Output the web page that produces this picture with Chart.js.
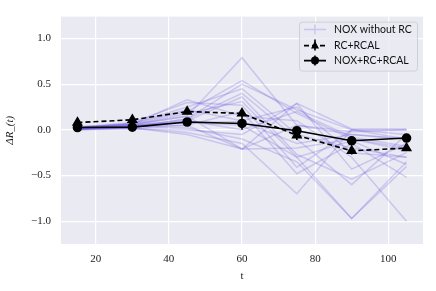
<!DOCTYPE html>
<html>
<head>
<meta charset="UTF-8">
<title>ΔR_(t)</title>
<script src="https://cdn.jsdelivr.net/npm/chart.js"></script>
<style>
  html, body { margin: 0; padding: 0; background: #fff; }
  #wrap { width: 436px; height: 291px; }
</style>
</head>
<body>
<div id="wrap"><canvas id="chart" width="436" height="291"></canvas></div>
<script>
// time points
const tValues = [15, 30, 45, 60, 75, 90, 105];
const xTicks = [20, 40, 60, 80, 100];
const yTicks = [-1.0, -0.5, 0.0, 0.5, 1.0];

// individual runs, NOX without RC
const noxRuns = [
  [0.02, 0.05, 0.15, 0.79, 0.05, -0.05, -0.10],
  [0.03, 0.06, 0.20, 0.54, 0.18, -0.10, -0.20],
  [0.01, 0.04, 0.12, 0.50, 0.22, 0.00, -0.05],
  [0.02, 0.07, 0.25, 0.45, -0.05, -0.20, -0.30],
  [0.00, 0.03, 0.10, 0.36, -0.27, -0.54, -0.25],
  [0.02, 0.05, 0.18, 0.31, -0.30, -0.97, -0.40],
  [0.03, 0.08, 0.30, 0.27, -0.41, 0.00, 0.00],
  [0.01, 0.02, 0.05, 0.20, -0.48, -0.15, -0.52],
  [0.02, 0.06, 0.33, 0.15, 0.10, -0.30, -1.00],
  [0.01, 0.03, 0.08, 0.09, -0.15, -0.05, -0.10],
  [0.00, 0.01, 0.00, -0.05, 0.29, -0.43, -0.15],
  [0.02, 0.04, 0.05, -0.21, 0.29, 0.01, 0.01],
  [0.01, 0.02, -0.03, -0.15, -0.70, 0.00, -0.10],
  [0.02, 0.04, 0.02, -0.10, -0.35, -0.97, -0.35],
  [0.03, 0.06, 0.15, -0.21, -0.20, -0.10, -0.23],
  [0.01, 0.05, 0.10, 0.00, 0.20, -0.08, -0.18],
  [0.02, 0.07, 0.22, 0.10, 0.25, -0.25, -0.30],
  [0.00, 0.02, -0.05, -0.21, 0.05, -0.02, 0.00],
  [0.02, 0.03, 0.12, 0.40, -0.10, -0.60, -0.05],
  [0.01, 0.05, 0.08, 0.05, -0.30, -0.12, -0.38]
];

const rcRcal = [0.08, 0.11, 0.20, 0.18, -0.06, -0.23, -0.20];
const rcRcalErr = [0.04, 0.03, 0.03, 0.04, 0.05, 0.04, 0.03];
const noxRcRcal = [0.025, 0.03, 0.086, 0.07, -0.01, -0.12, -0.09];
const noxRcRcalErr = [0.03, 0.02, 0.02, 0.07, 0.04, 0.03, 0.02];

const labels = ['NOX without RC', 'RC+RCAL', 'NOX+RC+RCAL'];
const purple = 'rgba(108, 88, 225, 0.25)';

const toPts = arr => arr.map((v, i) => ({ x: tValues[i], y: v }));

const datasets = [];
noxRuns.forEach((run, k) => {
  datasets.push({
    label: k === 0 ? labels[0] : '',
    data: toPts(run),
    borderColor: purple,
    borderWidth: 1.5,
    pointRadius: 0,
    fill: false,
    order: 2
  });
});
datasets.push({
  label: labels[1],
  data: toPts(rcRcal),
  err: rcRcalErr,
  borderColor: '#000',
  backgroundColor: '#000',
  borderWidth: 1.6,
  borderDash: [5, 3],
  pointStyle: 'triangle',
  pointRadius: 4.8,
  fill: false,
  order: 0
});
datasets.push({
  label: labels[2],
  data: toPts(noxRcRcal),
  err: noxRcRcalErr,
  borderColor: '#000',
  backgroundColor: '#000',
  borderWidth: 1.6,
  pointStyle: 'circle',
  pointRadius: 4,
  fill: false,
  order: 0
});

// grey seaborn panel
const panelBg = {
  id: 'panelBg',
  beforeDraw(chart) {
    const { ctx, chartArea: a } = chart;
    ctx.save();
    ctx.fillStyle = '#EAEAF2';
    ctx.fillRect(a.left, a.top, a.right - a.left, a.bottom - a.top);
    ctx.restore();
  }
};

// vertical error bars
const errorBars = {
  id: 'errorBars',
  afterDatasetsDraw(chart) {
    const { ctx, scales: { x, y } } = chart;
    ctx.save();
    ctx.strokeStyle = '#000';
    ctx.lineWidth = 1.6;
    chart.data.datasets.forEach(ds => {
      if (!ds.err) return;
      ds.data.forEach((p, i) => {
        const px = x.getPixelForValue(p.x);
        ctx.beginPath();
        ctx.moveTo(px, y.getPixelForValue(p.y - ds.err[i]));
        ctx.lineTo(px, y.getPixelForValue(p.y + ds.err[i]));
        ctx.stroke();
      });
    });
    ctx.restore();
  }
};

// matplotlib style legend
const mplLegend = {
  id: 'mplLegend',
  afterDraw(chart) {
    const { ctx, chartArea: a } = chart;
    const w = 118, h = 49;
    const bx = a.right - w - 6, by = a.top + 5;
    ctx.save();
    ctx.fillStyle = 'rgba(234,234,242,0.8)';
    ctx.strokeStyle = '#d0d0d8';
    ctx.lineWidth = 1;
    ctx.beginPath();
    ctx.roundRect(bx + 0.5, by + 0.5, w, h, 3);
    ctx.fill();
    ctx.stroke();

    const x0 = bx + 5, x1 = bx + 27, xm = (x0 + x1) / 2;
    const rows = [by + 8, by + 24, by + 39];
    ctx.font = '10.5px Lato, "DejaVu Sans", sans-serif';
    ctx.textBaseline = 'middle';
    ctx.fillStyle = '#111';
    labels.forEach((lab, i) => ctx.fillText(lab, bx + 35, rows[i]));

    // purple line with faint cap
    ctx.strokeStyle = purple;
    ctx.lineWidth = 1.5;
    ctx.beginPath();
    ctx.moveTo(x0, rows[0]); ctx.lineTo(x1, rows[0]);
    ctx.moveTo(xm, rows[0] - 5); ctx.lineTo(xm, rows[0] + 5);
    ctx.stroke();

    // dashed + triangle
    ctx.strokeStyle = '#000';
    ctx.lineWidth = 1.6;
    ctx.setLineDash([5, 3]);
    ctx.beginPath();
    ctx.moveTo(x0, rows[1]); ctx.lineTo(x1, rows[1]);
    ctx.stroke();
    ctx.setLineDash([]);
    ctx.beginPath();
    ctx.moveTo(xm, rows[1] - 6); ctx.lineTo(xm, rows[1] + 5);
    ctx.stroke();
    ctx.fillStyle = '#000';
    ctx.beginPath();
    ctx.moveTo(xm, rows[1] - 4.5);
    ctx.lineTo(xm + 4, rows[1] + 3);
    ctx.lineTo(xm - 4, rows[1] + 3);
    ctx.closePath();
    ctx.fill();

    // solid + circle
    ctx.beginPath();
    ctx.moveTo(x0, rows[2]); ctx.lineTo(x1, rows[2]);
    ctx.moveTo(xm, rows[2] - 5); ctx.lineTo(xm, rows[2] + 5);
    ctx.stroke();
    ctx.beginPath();
    ctx.arc(xm, rows[2], 4, 0, Math.PI * 2);
    ctx.fill();
    ctx.restore();
  }
};

const serif = '"Liberation Serif", "DejaVu Serif", serif';

new Chart(document.getElementById('chart'), {
  type: 'line',
  data: { datasets },
  options: {
    responsive: false,
    animation: false,
    layout: { padding: { top: 13, right: 13, left: 0, bottom: 8 } },
    plugins: {
      legend: { display: false },
      tooltip: { enabled: false }
    },
    elements: { line: { tension: 0 } },
    scales: {
      x: {
        type: 'linear',
        min: 10.5,
        max: 109.5,
        afterBuildTicks: s => { s.ticks = xTicks.map(v => ({ value: v })); },
        afterFit: s => { s.height = 39; },
        grid: { color: '#fff', lineWidth: 1.2, drawTicks: false },
        border: { display: false },
        ticks: { color: '#222', padding: 9, font: { family: serif, size: 11 } },
        title: { display: true, text: 't', color: '#222', padding: 0, font: { family: serif, size: 11 } }
      },
      y: {
        min: -1.25,
        max: 1.24,
        afterBuildTicks: s => { s.ticks = yTicks.map(v => ({ value: v })); },
        afterFit: s => { s.width = 61; },
        grid: { color: '#fff', lineWidth: 1.2, drawTicks: false },
        border: { display: false },
        ticks: {
          color: '#222', padding: 10,
          font: { family: serif, size: 11 },
          callback: v => (v < 0 ? '\u2212' : '') + Math.abs(v).toFixed(1)
        },
        title: { display: true, text: 'ΔR_(t)', color: '#222', padding: { bottom: 6 }, font: { family: serif, size: 11, style: 'italic' } }
      }
    }
  },
  plugins: [panelBg, errorBars, mplLegend]
});
</script>
</body>
</html>
